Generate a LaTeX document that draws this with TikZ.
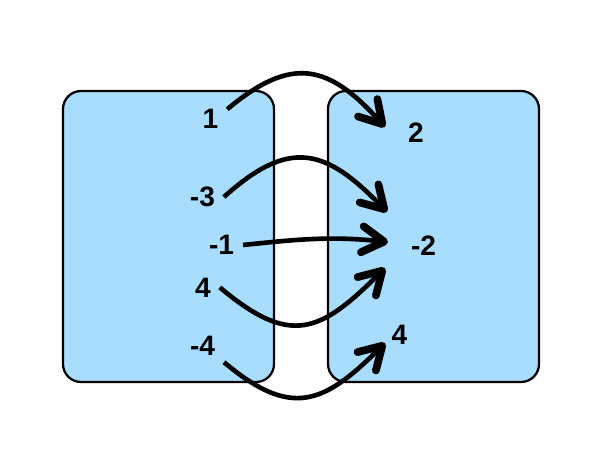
\documentclass[tikz,border=0pt]{standalone}
\usepackage{fontspec}
\setmainfont{Liberation Sans}
\usetikzlibrary{arrows.meta}
\definecolor{azzurro}{RGB}{168,221,253}
\begin{document}
\begin{tikzpicture}[thick, insieme/.style = {draw, line width=1.6pt, fill=azzurro, rounded corners=0.45cm, minimum width=5.275cm, minimum height=7.275cm}, num/.style = {font=\fontsize{20}{24}\selectfont\bfseries, inner sep=6pt}, freccia/.style = {line width=3.3pt, -{Straight Barb[length=5.5mm,width=6.5mm,line width=5.5pt,round]}}]
    \useasboundingbox (0,0) rectangle (15.275,11.425);
    % Disegna i due insiemi
    \node[insieme] (A) at (4.2125,5.5125) {};
    \node[insieme] (B) at (10.8375,5.5125) {};

    % Numeri del dominio
    \node[num] (s1) at (5.26,8.45) {1};
    \node[num] (sm3) at (5.06,6.5) {-3};
    \node[num] (sm1) at (5.54,5.3) {-1};
    \node[num] (s4) at (5.075,4.24) {4};
    \node[num] (sm4) at (5.0625,2.79) {-4};

    % Numeri del codominio
    \node[num] (d2) at (10.4,8.1) {2};
    \node[num] (dm2) at (10.5875,5.275) {-2};
    \node[num] (d4) at (9.9875,3.05) {4};

    % Punte delle frecce
    \coordinate (t1) at (9.625,8.25);
    \coordinate (t2) at (9.675,6.125);
    \coordinate (t3) at (9.7,5.375);
    \coordinate (t4) at (9.625,4.725);
    \coordinate (t5) at (9.625,2.85);

    \draw[freccia] (s1.30) to [out=40, in=132, looseness=1.36] (t1);
    \draw[freccia] (sm3.east) to [out=42, in=134, looseness=1.38] (t2);
    \draw[freccia] (sm1.east) to [out=6, in=174] (t3);
    \draw[freccia] (s4.east) to [out=-40, in=-135, looseness=1.42] (t4);
    \draw[freccia] (sm4.-38) to [out=-40, in=-135, looseness=1.38] (t5);

\end{tikzpicture}
\end{document}
